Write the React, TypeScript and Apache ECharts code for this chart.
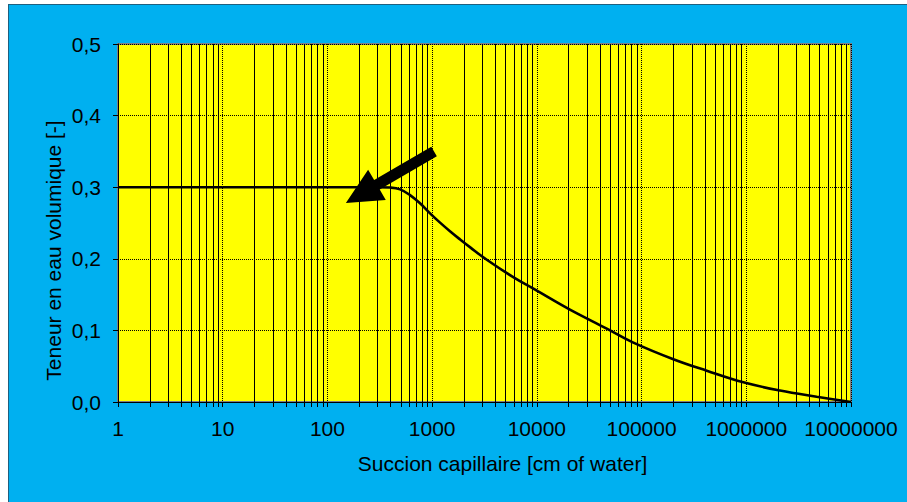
import React, { useEffect, useRef } from "react";
import * as echarts from "echarts";

// Capillary suction [cm of water]
const suction = [1, 10, 100, 300, 396, 494, 615, 766, 955, 1190, 1480, 1850, 2310, 3300, 6000, 10000, 20700, 46500, 83500, 201000, 419000, 938000, 2100000, 4700000, 10000000];
// Volumetric water content [-]
const waterContent = [0.3, 0.3, 0.3, 0.3, 0.2995, 0.297, 0.289, 0.2775, 0.2635, 0.2505, 0.2385, 0.227, 0.216, 0.199, 0.174, 0.1555, 0.129, 0.1025, 0.083, 0.0598, 0.0437, 0.0275, 0.016, 0.0074, 0];

const decades = [1, 10, 100, 1000, 10000, 100000, 1000000];
const minorMultipliers = [2, 3, 4, 5, 6, 7, 8, 9];
const minorTicks = decades.flatMap((d) => minorMultipliers.map((m) => d * m));

// Arrow annotation (data coordinates): tail and tip
const arrowFrom = [1043, 0.35];
const arrowTo = [150, 0.278];

const xTitle = "Succion capillaire [cm of water]";
const yTitle = "Teneur en eau volumique [-]";

const FONT = "'Liberation Sans', Arial, sans-serif";
const FS = 21;

export default function App() {
  const ref = useRef<HTMLDivElement>(null);

  useEffect(() => {
    if (!ref.current) return;
    const chart = echarts.init(ref.current, null, { renderer: "svg" });
    chart.setOption({
      animation: false,
      backgroundColor: "#00B0F0",
      grid: {
        left: 109,
        top: 39,
        right: 56,
        bottom: 100,
        show: true,
        backgroundColor: "#FFFF00",
        borderColor: "#808080",
        borderWidth: 2,
      },
      xAxis: {
        type: "log",
        logBase: 10,
        min: 1,
        max: 10000000,
        axisLine: { show: true, onZero: false, lineStyle: { color: "#000", width: 1 } },
        axisTick: { show: true, inside: false, length: 5, lineStyle: { color: "#000" } },
        axisLabel: {
          color: "#000",
          fontSize: FS,
          fontFamily: FONT,
          margin: 16,
          formatter: (v: number) => String(Math.round(v)),
        },
        splitLine: { show: true, lineStyle: { color: "#000", type: "dotted", width: 1 } },
        minorTick: { show: false },
      },
      yAxis: {
        type: "value",
        min: 0,
        max: 0.5,
        interval: 0.1,
        axisLine: { show: true, lineStyle: { color: "#000", width: 1 } },
        axisTick: { show: true, inside: false, length: 5, lineStyle: { color: "#000" } },
        axisLabel: {
          color: "#000",
          fontSize: FS,
          fontFamily: FONT,
          margin: 17,
          formatter: (v: number) => v.toFixed(1).replace(".", ","),
        },
        splitLine: { show: true, lineStyle: { color: "#000", type: "dotted", width: 1 } },
      },
      graphic: [
        {
          type: "text",
          x: 493.5,
          y: 458,
          style: {
            text: xTitle,
            fontSize: FS,
            fontFamily: FONT,
            fill: "#000",
            align: "center",
            verticalAlign: "middle",
          },
        },
        {
          type: "text",
          x: 44,
          y: 245.5,
          rotation: Math.PI / 2,
          style: {
            text: yTitle,
            fontSize: FS,
            fontFamily: FONT,
            fill: "#000",
            align: "center",
            verticalAlign: "middle",
          },
        },
      ],
      series: [
        {
          type: "custom",
          z: 1,
          silent: true,
          clip: false,
          data: minorTicks.map((v) => [v, 0]),
          encode: { x: 0, y: 1 },
          renderItem: (params: any, api: any) => {
            const v = api.value(0);
            const top = api.coord([v, 0.5]);
            const bot = api.coord([v, 0]);
            const x = Math.round(top[0]) + 0.5;
            return {
              type: "line",
              shape: { x1: x, y1: top[1], x2: x, y2: bot[1] + 5 },
              style: { stroke: "#000", lineWidth: 1 },
            };
          },
        },
        {
          type: "line",
          z: 3,
          data: suction.map((s, i) => [s, waterContent[i]]),
          symbol: "none",
          smooth: 0.4,
          lineStyle: { color: "#000", width: 2.6 },
        },
        {
          type: "custom",
          z: 5,
          silent: true,
          clip: false,
          data: [[arrowFrom[0], arrowFrom[1], arrowTo[0], arrowTo[1]]],
          encode: { x: [0, 2], y: [1, 3] },
          renderItem: (params: any, api: any) => {
            const p0 = api.coord([api.value(0), api.value(1)]);
            const p1 = api.coord([api.value(2), api.value(3)]);
            const dx = p1[0] - p0[0];
            const dy = p1[1] - p0[1];
            const len = Math.sqrt(dx * dx + dy * dy);
            const ux = dx / len;
            const uy = dy / len;
            const nx = -uy;
            const ny = ux;
            const headLen = 36;
            const headHalf = 17.5;
            const shaftHalf = 5.5;
            const bx = p1[0] - ux * headLen;
            const by = p1[1] - uy * headLen;
            const pts = [
              [p0[0] + nx * shaftHalf, p0[1] + ny * shaftHalf],
              [bx + nx * shaftHalf, by + ny * shaftHalf],
              [bx + nx * headHalf, by + ny * headHalf],
              [p1[0], p1[1]],
              [bx - nx * headHalf, by - ny * headHalf],
              [bx - nx * shaftHalf, by - ny * shaftHalf],
              [p0[0] - nx * shaftHalf, p0[1] - ny * shaftHalf],
            ];
            return {
              type: "polygon",
              shape: { points: pts },
              style: { fill: "#000" },
            };
          },
        },
      ],
    });
    return () => chart.dispose();
  }, []);

  return (
    <div
      style={{
        position: "absolute",
        left: 8,
        top: 4,
        width: 899,
        height: 498,
        boxSizing: "border-box",
        borderLeft: "1px solid #1f5f7f",
        borderTop: "1px solid #1f5f7f",
        background: "#00B0F0",
        overflow: "hidden",
      }}
    >
      <div ref={ref} style={{ width: 898, height: 497 }} />
    </div>
  );
}
